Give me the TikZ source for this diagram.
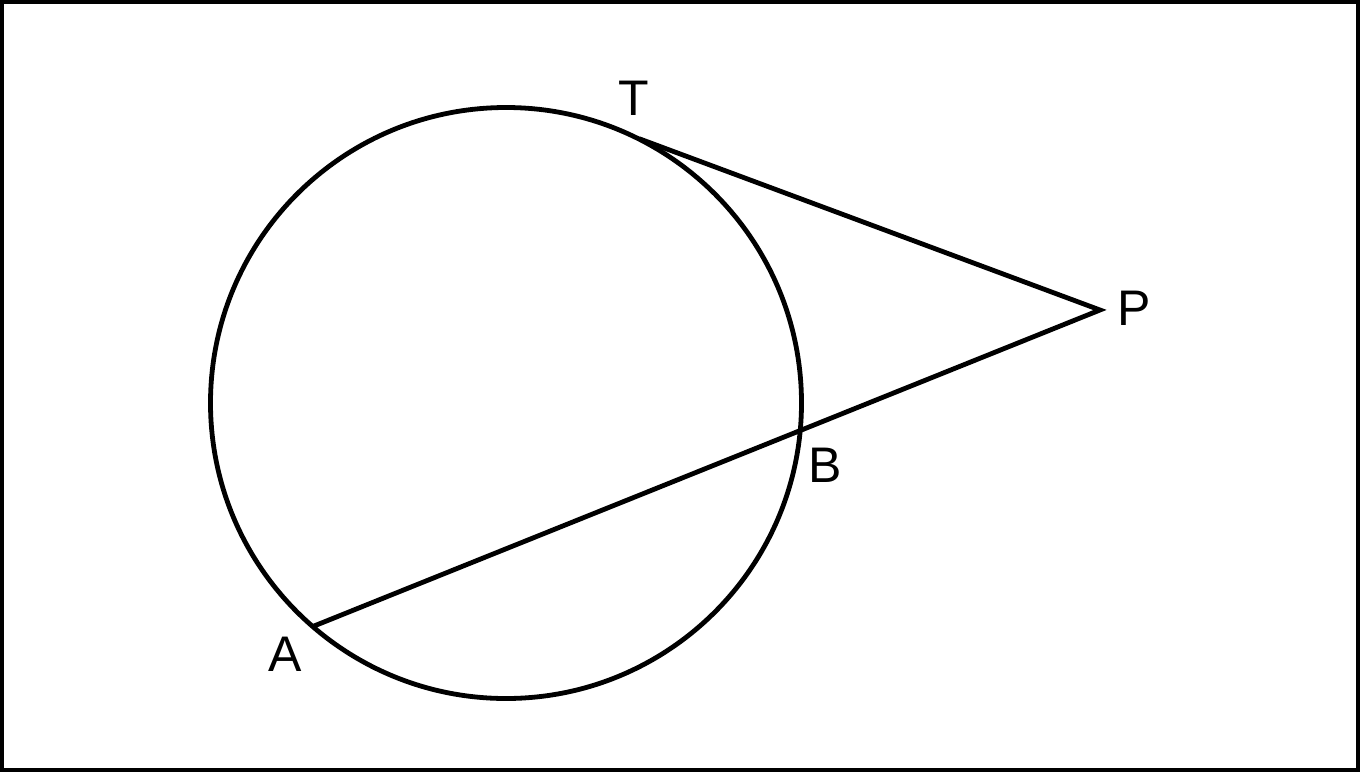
\documentclass[tikz,border=0pt]{standalone}
\usepackage{fontspec}
\setmainfont{Liberation Sans}
\begin{document}
\begin{tikzpicture}[x=0.5pt,y=-0.5pt,
  geo/.style={line width=2.4pt, black},
  lbl/.style={font=\fontsize{25}{30}\selectfont, inner sep=0pt, anchor=center}]
\useasboundingbox (0,0) rectangle (1360,772);
\draw[line width=1.8pt] (1.8,1.8) rectangle (1358.2,770.2);
\coordinate (O) at (506,403);
\draw[geo] (O) circle[radius=295.5];
\coordinate (T) at (639.4,138.8);
\coordinate (P) at (1100,310);
\coordinate (B) at (801,430);
\coordinate (A) at (314,626);
\draw[geo, line join=miter] (T) -- (P) -- (A);
\node[lbl] (tl) at (634,98) {T};
\node[lbl] (pl) at (1134,308) {P};
\node[lbl] (bl) at (825,465) {B};
\node[lbl] (al) at (285,654) {A};
\end{tikzpicture}
\end{document}
